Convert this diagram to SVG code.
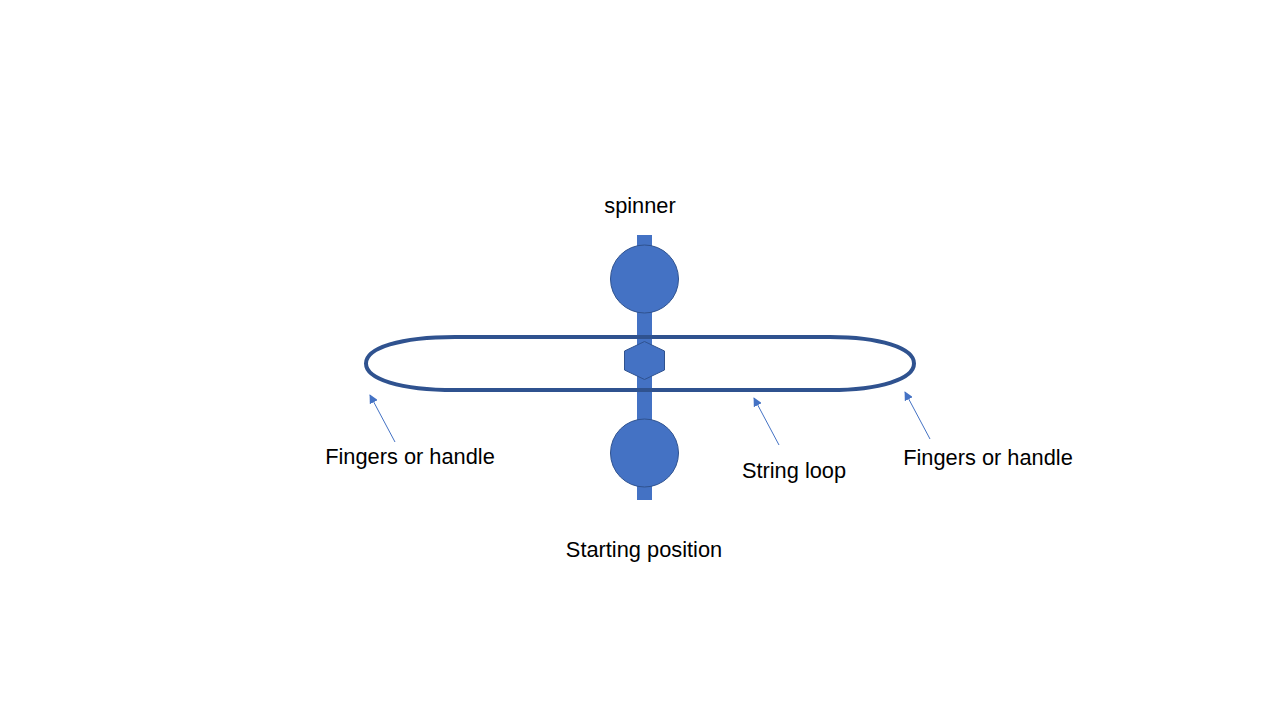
<svg xmlns="http://www.w3.org/2000/svg" width="1280" height="720" viewBox="0 0 1280 720">
<defs>
<style>
.lbl{font-family:"Liberation Sans",Arial,sans-serif;font-size:21.8px;fill:#000}
.shape{fill:#4472C4;stroke:#2F528F;stroke-width:1}
.ptr{stroke:#4472C4;stroke-width:1;fill:none}
</style>
<marker id="ah" viewBox="0 0 10 10" refX="9" refY="5" markerWidth="9" markerHeight="9" markerUnits="userSpaceOnUse" orient="auto">
<path d="M0,0 L10,5 L0,10 Z" fill="#4472C4"/>
</marker>
</defs>
<rect width="1280" height="720" fill="#fff"/>
<g id="spinner">
<rect x="637" y="235" width="15" height="265" fill="#4472C4"/>
<circle class="shape" cx="644.5" cy="279" r="34"/>
<circle class="shape" cx="644.5" cy="453" r="34"/>
</g>
<g id="string-loop">
<path d="M455,337 L830,337 C880,337 914,348 914,363.5 C914,379 880,390 830,390 L455,390 C400,390 366,379 366,363.5 C366,348 400,337 455,337 Z" fill="none" stroke="#2F528F" stroke-width="4"/>
</g>
<g id="hub">
<polygon class="shape" points="644.5,341.5 664.5,351 664.5,370 644.5,379.5 624.5,370 624.5,351"/>
</g>
<g id="connectors">
<line class="ptr" x1="395" y1="442" x2="370" y2="395" marker-end="url(#ah)"/>
<line class="ptr" x1="779" y1="445" x2="754" y2="398" marker-end="url(#ah)"/>
<line class="ptr" x1="930" y1="439" x2="905" y2="392" marker-end="url(#ah)"/>
</g>
<g id="labels">
<text class="lbl" x="640" y="213" text-anchor="middle">spinner</text>
<text class="lbl" x="410" y="464" text-anchor="middle">Fingers or handle</text>
<text class="lbl" x="794" y="478" text-anchor="middle">String loop</text>
<text class="lbl" x="988" y="465" text-anchor="middle">Fingers or handle</text>
<text class="lbl" x="644" y="557" text-anchor="middle">Starting position</text>
</g>
</svg>
